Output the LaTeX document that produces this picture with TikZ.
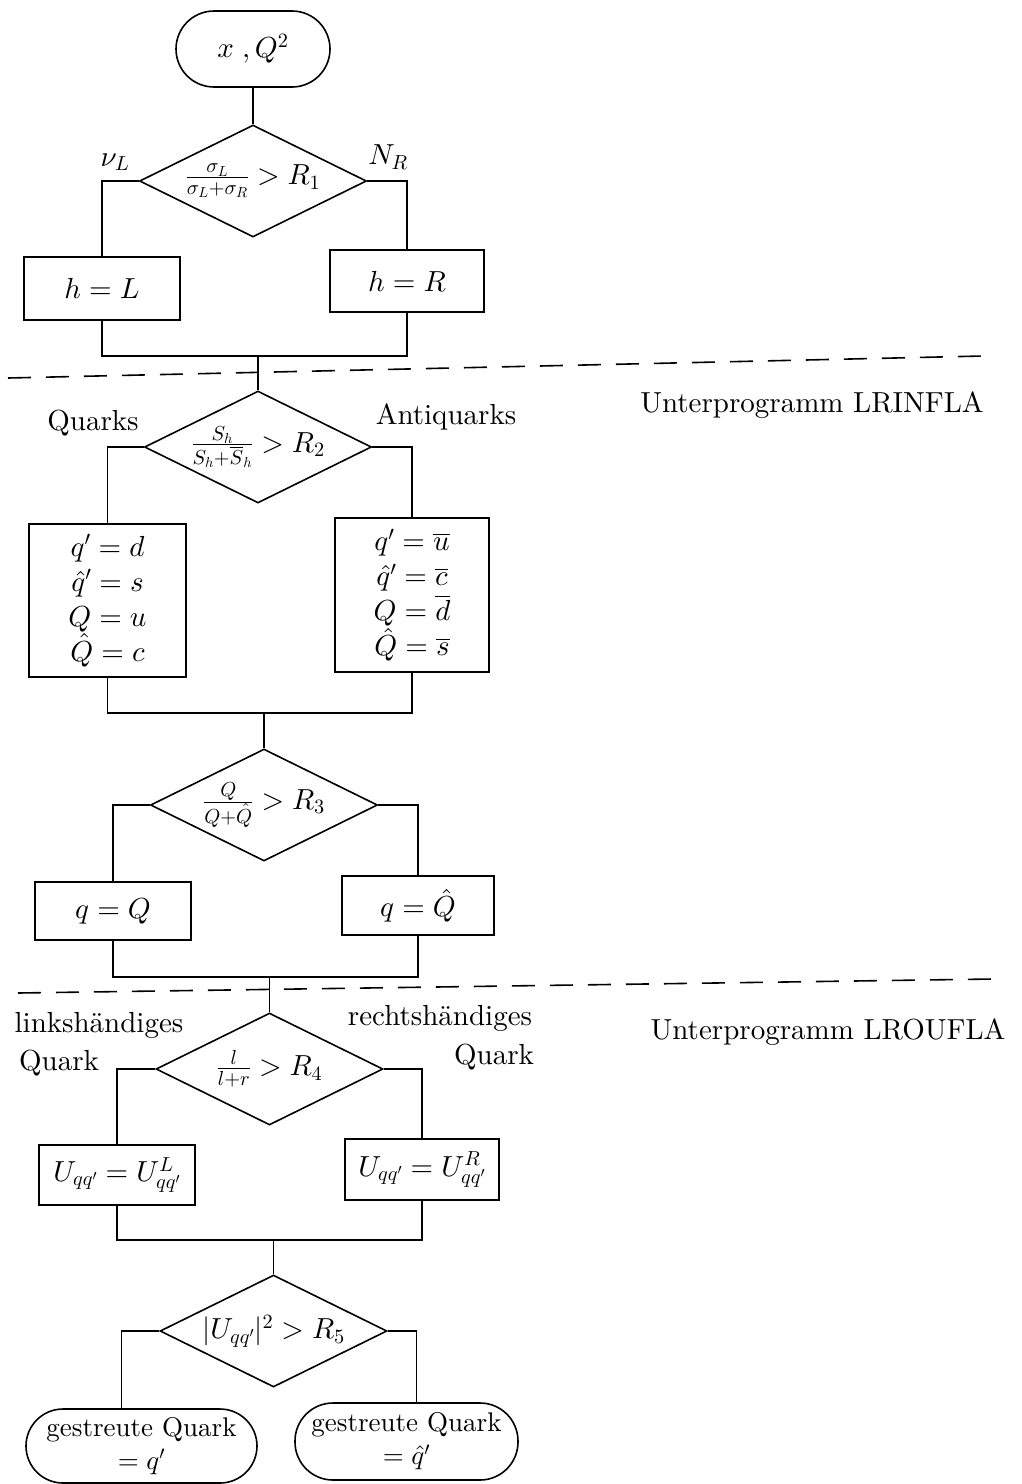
\documentclass[tikz,border=0pt]{standalone}
\usepackage{amsmath}
\usepackage{fontspec}
\setmainfont{lmroman10-regular}[Extension=.otf]
\DeclareFontShape{OML}{cmm}{m}{it}{<->cmmi10}{}
\DeclareFontShape{OMS}{cmsy}{m}{n}{<->cmsy10}{}
\DeclareFontShape{OT1}{cmr}{m}{n}{<->cmr10}{}
\usetikzlibrary{shapes.geometric}
\begin{document}
\begin{tikzpicture}[x=1pt,y=-1pt, line width=1.6pt,
  every node/.style={font=\fontsize{29}{35}\selectfont},
  proc/.style={draw, rectangle, inner sep=0pt, align=center},
  dec/.style={draw, diamond, aspect=2, inner sep=0pt, minimum width=227pt, minimum height=112pt},
  term/.style={draw, rectangle, inner sep=0pt, align=center},
  endterm/.style={term, font=\fontsize{27}{33}\selectfont},
  lbl/.style={inner sep=0pt},
  sepline/.style={dash pattern=on 23pt off 15pt, line width=1.6pt}]
\useasboundingbox (0,0) rectangle (1022,1484);

% --- top part
\node[term, rounded corners=38pt, minimum width=154pt, minimum height=76pt] (start) at (253,49) {$x\;,Q^2$};
\node[dec] (d1) at (253,181) {$\frac{\sigma_L}{\sigma_L+\sigma_R} > R_1$};
\node[lbl] (nuL) at (115,162) {$\nu_L$};
\node[lbl] (NR) at (388,157) {$N_R$};
\node[proc, minimum width=156pt, minimum height=63pt] (hL) at (102,288.5) {$h=L$};
\node[proc, minimum width=154pt, minimum height=62pt] (hR) at (407,281) {$h=R$};
\coordinate (m1) at (258,356);
\draw (start) -- (d1.north);
\draw (d1.west) -| (hL.north);
\draw (d1.east) -| (hR.north);
\draw (hL.south) |- (m1) -| (hR.south);

% --- separator 1
\coordinate (s1a) at (8,378);
\coordinate (s1b) at (983,356);
\draw[sepline] (s1a) -- (s1b);
\node[lbl] (up1) at (812,405) {Unterprogramm LRINFLA};

% --- LRINFLA
\node[dec] (d2) at (258,447) {$\frac{S_h}{S_h+\overline{S}_h} > R_2$};
\node[lbl] (quarks) at (93,423) {Quarks};
\node[lbl] (antiq) at (446,417) {Antiquarks};
\node[proc, minimum width=157pt, minimum height=153pt] (qL) at (107.5,600.5)
  {$q'=d$\\ $\hat{q}'=s$\\ $Q=u$\\ $\hat{Q}=c$};
\node[proc, minimum width=154pt, minimum height=154pt] (qR) at (412,595)
  {$q'=\overline{u}$\\ $\hat{q}'=\overline{c}$\\ $Q=\overline{d}$\\ $\hat{Q}=\overline{s}$};
\draw (m1) -- (m1 |- d2.north);
\draw (d2.west) -| (qL.north);
\draw (d2.east) -| (qR.north);
\coordinate (m2) at (264,713);
\draw (qL.south) |- (m2) -| (qR.south);

\node[dec] (d3) at (264,805) {$\frac{Q}{Q+\hat{Q}} > R_3$};
\node[proc, minimum width=156pt, minimum height=58pt] (QL) at (113,911) {$q=Q$};
\node[proc, minimum width=152pt, minimum height=59pt] (QR) at (418,905.5) {$q=\hat{Q}$};
\draw (m2) -- (d3.north);
\draw (d3.west) -| (QL.north);
\draw (d3.east) -| (QR.north);
\coordinate (m3) at (269.5,977);
\draw (QL.south) |- (m3) -| (QR.south);

% --- separator 2
\coordinate (s2a) at (18,993);
\coordinate (s2b) at (993,979);
\draw[sepline] (s2a) -- (s2b);
\node[lbl] (up2) at (828,1032) {Unterprogramm LROUFLA};

% --- LROUFLA
\node[dec] (d4) at (269.5,1069) {$\frac{l}{l+r} > R_4$};
\node[lbl] (lh) at (99,1025) {linksh\"andiges};
\node[lbl] (lq) at (59,1063) {Quark};
\node[lbl] (rh) at (440,1018) {rechtsh\"andiges};
\node[lbl] (rq) at (494,1057) {Quark};
\node[proc, minimum width=156pt, minimum height=60pt] (UL) at (117,1175) {$U_{qq'}=U^L_{qq'}$};
\node[proc, minimum width=154pt, minimum height=61pt] (UR) at (422,1169.5) {$U_{qq'}=U^R_{qq'}$};
\draw (m3) -- (d4.north);
\draw (d4.west) -| (UL.north);
\draw (d4.east) -| (UR.north);
\coordinate (m4) at (273.5,1240);
\draw (UL.south) |- (m4) -| (UR.south);

\node[dec] (d5) at (273.5,1331) {$|U_{qq'}|^2 > R_5$};
\node[endterm, rounded corners=37pt, minimum width=231pt, minimum height=74pt] (T1) at (141.5,1446)
  {gestreute Quark\\ $=q'$};
\node[endterm, rounded corners=38pt, minimum width=223pt, minimum height=77pt] (T2) at (406.5,1441.5)
  {gestreute Quark\\ $=\hat{q}'$};
\draw (m4) -- (d5.north);
\draw (d5.west) -| ([xshift=-20pt]T1.north);
\draw (d5.east) -| ([xshift=10pt]T2.north);
\end{tikzpicture}
\end{document}
